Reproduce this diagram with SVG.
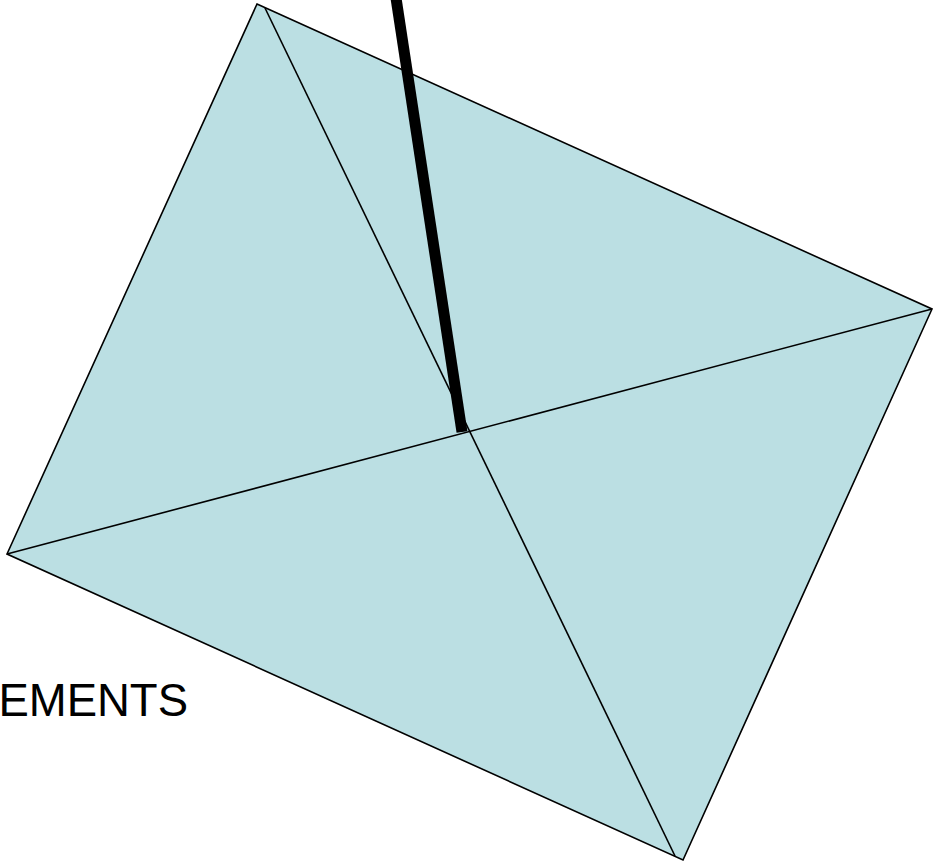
<svg xmlns="http://www.w3.org/2000/svg" width="934" height="863" viewBox="0 0 934 863">
<style>
.face{fill:#bbdfe3;stroke:#000;stroke-width:1.6;stroke-linejoin:miter}
.edge{fill:none;stroke:#000;stroke-width:1.6}
.label{font-family:"Liberation Sans",Arial,sans-serif;font-size:45.5px;fill:#000}
</style>
<rect width="934" height="863" fill="#fff"/>
<g id="pyramid">
<polygon class="face" points="257,4 932,309 683,860 7,554"/>
</g>
<g id="connectors">
<line class="edge" x1="265" y1="8" x2="675" y2="856"/>
<line class="edge" x1="7" y1="554" x2="932" y2="309"/>
<line x1="396" y1="-2" x2="462" y2="432" stroke="#000" stroke-width="11"/>
</g>
<g id="label">
<text class="label" x="188" y="716" text-anchor="end">EMENTS</text>
</g>
</svg>
